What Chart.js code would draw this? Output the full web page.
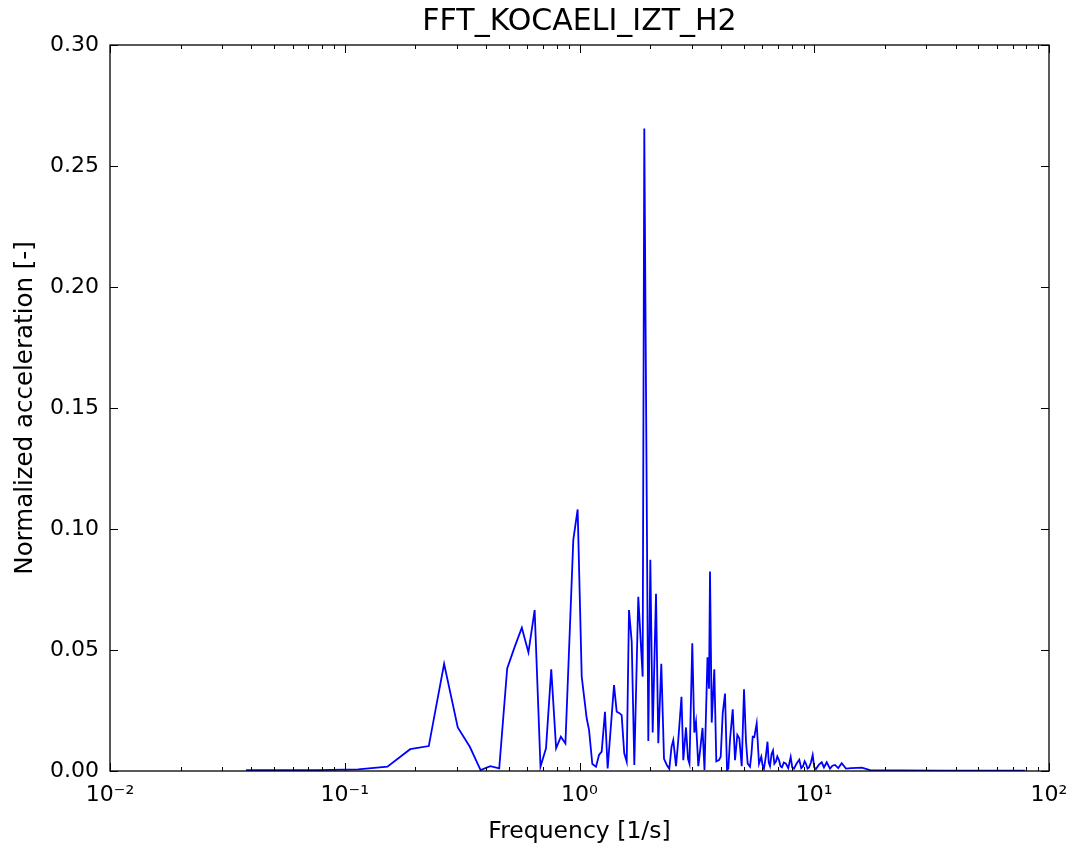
<!DOCTYPE html>
<html>
<head>
<meta charset="utf-8">
<script src="https://cdn.jsdelivr.net/npm/chart.js@4.4.1/dist/chart.umd.min.js"></script>
<style>
  html, body { margin: 0; padding: 0; background: #fff; }
  #wrap { width: 1075px; height: 852px; position: relative; }
</style>
</head>
<body>
<div id="wrap"><canvas id="c"></canvas></div>
<script>
// ---- Data ----
const chartTitle = 'FFT_KOCAELI_IZT_H2';
const xAxisTitle = 'Frequency [1/s]';
const yAxisTitle = 'Normalized acceleration [-]';

const frequency = [
  0.038, 0.076, 0.114, 0.152, 0.190, 0.228, 0.265, 0.303, 0.341, 0.379,
  0.417, 0.455, 0.492, 0.530, 0.568, 0.606, 0.644, 0.682, 0.720, 0.758,
  0.795, 0.833, 0.871, 0.941, 0.982, 1.022, 1.073, 1.098, 1.134, 1.176,
  1.211, 1.243, 1.284, 1.318, 1.403, 1.440, 1.475, 1.512, 1.551, 1.589,
  1.625, 1.669, 1.712, 1.780, 1.858, 1.888, 1.964, 2.003, 2.050, 2.118,
  2.166, 2.231, 2.291, 2.352, 2.413, 2.466, 2.509, 2.577, 2.635, 2.719,
  2.768, 2.842, 2.899, 2.941, 3.023, 3.083, 3.135, 3.207, 3.266, 3.342,
  3.408, 3.509, 3.562, 3.597, 3.658, 3.752, 3.826, 3.929, 3.995, 4.074,
  4.168, 4.251, 4.305, 4.377, 4.495, 4.597, 4.702, 4.795, 4.909, 5.021,
  5.121, 5.206, 5.325, 5.400, 5.468, 5.554, 5.686, 5.816, 5.948, 6.020,
  6.108, 6.220, 6.322, 6.400, 6.479, 6.580, 6.673, 6.760, 6.871, 6.960,
  7.076, 7.180, 7.288, 7.420, 7.579, 7.750, 7.936, 8.060, 8.196, 8.400,
  8.636, 8.800, 8.957, 9.100, 9.223, 9.360, 9.498, 9.680, 9.849, 10.00,
  10.17, 10.45, 10.76, 11.00, 11.30, 11.67, 11.95, 12.26, 12.65, 13.09,
  13.65, 14.34, 15.16, 15.97, 17.28, 19.63, 23.3, 34.7, 51.9, 79.0
];
const amplitude = [
  0.0003, 0.0004, 0.0007, 0.0018, 0.0090, 0.0103, 0.0443, 0.0180, 0.0100, 0.0004,
  0.0020, 0.0011, 0.0424, 0.0514, 0.0592, 0.0490, 0.0665, 0.0018, 0.0094, 0.0420,
  0.0094, 0.0142, 0.0114, 0.0955, 0.1081, 0.0390, 0.0218, 0.0170, 0.0029, 0.0018,
  0.0066, 0.0080, 0.0245, 0.0011, 0.0355, 0.0245, 0.0240, 0.0231, 0.0073, 0.0038,
  0.0665, 0.0534, 0.0025, 0.0720, 0.0390, 0.2655, 0.0124, 0.0873, 0.0159, 0.0732,
  0.0115, 0.0443, 0.0050, 0.0026, 0.0009, 0.0100, 0.0128, 0.0020, 0.0128, 0.0307,
  0.0045, 0.0180, 0.0050, 0.0030, 0.0528, 0.0159, 0.0204, 0.0020, 0.0087, 0.0178,
  0.0004, 0.0470, 0.0340, 0.0824, 0.0200, 0.0420, 0.0040, 0.0045, 0.0059, 0.0238,
  0.0320, 0.0004, 0.0010, 0.0130, 0.0255, 0.0045, 0.0149, 0.0135, 0.0020, 0.0338,
  0.0121, 0.0030, 0.0018, 0.0070, 0.0142, 0.0140, 0.0197, 0.0030, 0.0059, 0.0025,
  0.0010, 0.0060, 0.0121, 0.0035, 0.0020, 0.0070, 0.0085, 0.0030, 0.0040, 0.0060,
  0.0045, 0.0020, 0.0015, 0.0035, 0.0030, 0.0012, 0.0058, 0.0015, 0.0010, 0.0030,
  0.0047, 0.0012, 0.0020, 0.0040, 0.0030, 0.0010, 0.0015, 0.0035, 0.0066, 0.0015,
  0.0008, 0.0025, 0.0036, 0.0015, 0.0036, 0.0010, 0.0022, 0.0025, 0.0012, 0.0032,
  0.0010, 0.0012, 0.0013, 0.0014, 0.0004, 0.0002, 0.0002, 0.0001, 0.0001, 0.0001
];

const xMajorTicks = [0.01, 0.1, 1, 10, 100];
const xTickLabels = ['10\u207B\u00B2', '10\u207B\u00B9', '10\u2070', '10\u00B9', '10\u00B2'];
const yTicks = [0, 0.05, 0.10, 0.15, 0.20, 0.25, 0.30];

// ---- Chart ----
const FONT = "'DejaVu Sans', 'Liberation Sans', sans-serif";

const frameTicks = {
  id: 'frameTicks',
  afterDatasetsDraw(chart) {
    const { ctx, chartArea: a, scales } = chart;
    const xs = scales.x, ys = scales.y;
    ctx.save();
    ctx.strokeStyle = '#000';
    ctx.lineWidth = 1;
    ctx.beginPath();
    xMajorTicks.forEach(v => {
      const px = Math.round(xs.getPixelForValue(v)) + 0.5;
      ctx.moveTo(px, a.bottom); ctx.lineTo(px, a.bottom - 8);
      ctx.moveTo(px, a.top); ctx.lineTo(px, a.top + 8);
    });
    for (let d = -2; d < 2; d++) {
      for (let m = 2; m <= 9; m++) {
        const px = Math.round(xs.getPixelForValue(m * Math.pow(10, d))) + 0.5;
        ctx.moveTo(px, a.bottom); ctx.lineTo(px, a.bottom - 4);
        ctx.moveTo(px, a.top); ctx.lineTo(px, a.top + 4);
      }
    }
    yTicks.forEach(v => {
      const py = Math.round(ys.getPixelForValue(v)) + 0.5;
      ctx.moveTo(a.left, py); ctx.lineTo(a.left + 8, py);
      ctx.moveTo(a.right, py); ctx.lineTo(a.right - 8, py);
    });
    ctx.stroke();
    ctx.lineWidth = 1.3;
    ctx.strokeRect(a.left, a.top, a.right - a.left, a.bottom - a.top);
    ctx.restore();
  }
};

new Chart(document.getElementById('c'), {
  type: 'scatter',
  data: {
    datasets: [{
      data: frequency.map((f, i) => ({ x: f, y: amplitude[i] })),
      showLine: true,
      borderColor: '#0000ff',
      backgroundColor: '#0000ff',
      borderWidth: 1.8,
      pointRadius: 0,
      tension: 0,
      fill: false
    }]
  },
  options: {
    responsive: true,
    maintainAspectRatio: false,
    animation: false,
    devicePixelRatio: 1,
    layout: { padding: { left: 0, right: 26, top: 0, bottom: 0 } },
    plugins: {
      legend: { display: false },
      tooltip: { enabled: false },
      title: {
        display: true,
        text: chartTitle,
        fullSize: false,
        color: '#000',
        font: { family: FONT, size: 30, weight: 'normal', lineHeight: 1.2 },
        padding: { top: 4, bottom: 5 }
      }
    },
    scales: {
      x: {
        type: 'logarithmic',
        min: 0.01,
        max: 100,
        afterBuildTicks(scale) {
          scale.ticks = xMajorTicks.map(v => ({ value: v, major: true }));
        },
        afterFit(scale) {
          scale.height = 81;
          scale.paddingLeft = 0;
          scale.paddingRight = 0;
        },
        grid: { display: false, drawTicks: false },
        border: { display: false },
        ticks: {
          autoSkip: false,
          maxRotation: 0,
          padding: 11,
          color: '#000',
          font: { family: FONT, size: 22 },
          callback(value) {
            const i = xMajorTicks.indexOf(value);
            return i >= 0 ? xTickLabels[i] : '';
          }
        },
        title: {
          display: true,
          text: xAxisTitle,
          color: '#000',
          font: { family: FONT, size: 23.5 },
          padding: { top: 0, bottom: 6 }
        }
      },
      y: {
        type: 'linear',
        min: 0,
        max: 0.30,
        afterBuildTicks(scale) {
          scale.ticks = yTicks.map(v => ({ value: v }));
        },
        afterFit(scale) {
          scale.width = 110;
          scale.paddingTop = 0;
          scale.paddingBottom = 0;
        },
        grid: { display: false, drawTicks: false },
        border: { display: false },
        ticks: {
          padding: 11,
          color: '#000',
          font: { family: FONT, size: 22 },
          callback(value) { return Number(value).toFixed(2); }
        },
        title: {
          display: true,
          text: yAxisTitle,
          color: '#000',
          font: { family: FONT, size: 24.5 },
          padding: { top: 11, bottom: 0 }
        }
      }
    }
  },
  plugins: [frameTicks]
});
</script>
</body>
</html>
